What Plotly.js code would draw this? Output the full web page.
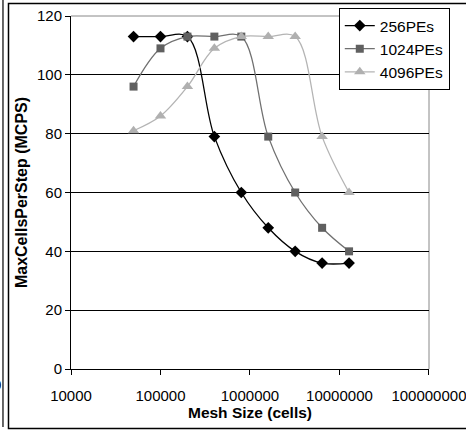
<!DOCTYPE html>
<html><head><meta charset="utf-8">
<script src="https://cdn.plot.ly/plotly-3.0.1.min.js"></script>
<style>html,body{margin:0;padding:0;background:#fff;}#chart{width:466px;height:430px;}</style>
</head><body><div id="chart"></div>
<script>
const meshSizes = [50000, 100000, 200000, 400000, 800000, 1600000, 3200000, 6400000, 12800000];
const pe256 = [113, 113, 113, 79, 60, 48, 40, 36, 36];
const pe1024 = [96, 109, 113, 113, 113, 79, 60, 48, 40];
const pe4096 = [81, 86, 96, 109, 113, 113, 113, 79, 60];
const seriesNames = ['256PEs', '1024PEs', '4096PEs'];
const xTickVals = [10000, 100000, 1000000, 10000000, 100000000];
const xTickText = ['10000', '100000', '1000000', '10000000', '100000000'];

const FONT = 'Liberation Sans, Arial, sans-serif';
const mk = (y, name, lineColor, markerColor, symbol, size, grp) => ({
  x: meshSizes, y: y, name: name, type: 'scatter', mode: 'lines+markers',
  legendgroup: grp,
  line: {color: lineColor, width: 1.3, shape: 'spline', smoothing: 1},
  marker: {color: markerColor, symbol: symbol, size: size, line: {width: 0}}
});
const data = [
  mk(pe256, seriesNames[0], '#000000', '#000000', 'diamond', 9, 'a'),
  mk(pe1024, seriesNames[1], '#707070', '#606060', 'square', 8, 'b'),
  mk(pe4096, seriesNames[2], '#b4b4b4', '#b0b0b0', 'triangle-up', 10, 'c')
];
const layout = {
  width: 466, height: 430,
  margin: {l: 71, r: 37, t: 16, b: 61, autoexpand: false},
  paper_bgcolor: '#fff', plot_bgcolor: '#fff',
  font: {family: FONT, size: 15, color: '#000'},
  showlegend: true,
  legend: {x: 0.748, y: 1.0227, xanchor: 'left', yanchor: 'top',
    bordercolor: '#000', borderwidth: 1, bgcolor: '#fff',
    font: {family: FONT, size: 15.5, color: '#000'},
    tracegroupgap: 0, traceorder: 'grouped'},
  xaxis: {type: 'log', range: [4, 8.0005], tickvals: xTickVals, ticktext: xTickText, tickangle: 0,
    ticks: 'outside', ticklen: 5, tickcolor: '#000', showline: true, linecolor: '#000', linewidth: 1,
    ticklabelstandoff: 8, ticklabeloverflow: 'allow',
    showgrid: false, zeroline: false, tickfont: {family: FONT, size: 15},
    title: {text: '<b>Mesh Size (cells)</b>', font: {family: FONT, size: 15.5}, standoff: 4}},
  yaxis: {range: [0, 120], dtick: 20, ticks: 'outside', ticklen: 5, tickcolor: '#000',
    showline: true, linecolor: '#000', linewidth: 1, showgrid: true, gridcolor: '#000', gridwidth: 1,
    zeroline: false, tickfont: {family: FONT, size: 15},
    title: {text: '<b>MaxCellsPerStep (MCPS)</b>', font: {family: FONT, size: 16}, standoff: 5}},
  shapes: [
    {type: 'line', xref: 'paper', yref: 'paper', x0: 0, x1: 1, y0: 1, y1: 1, line: {color: '#888', width: 1}, layer: 'above'},
    {type: 'line', xref: 'paper', yref: 'paper', x0: 1, x1: 1, y0: 0, y1: 1, line: {color: '#888', width: 1}, layer: 'below'},
    {type: 'rect', xref: 'paper', yref: 'paper', x0: -0.1746, x1: 1.12, y0: -0.1686, y1: 1.0354, line: {color: '#000', width: 1.5}},
    {type: 'line', xref: 'paper', yref: 'paper', x0: -0.19, x1: -0.19, y0: -0.164, y1: 1.05, line: {color: '#000', width: 1.2}}
  ],
  annotations: [
    {text: '0', xref: 'paper', yref: 'paper', x: -0.191, y: -0.043, xanchor: 'right', yanchor: 'middle', showarrow: false, font: {family: FONT, size: 15, color: '#000'}}
  ]
};
Plotly.newPlot('chart', data, layout, {displayModeBar: false, staticPlot: true});
</script></body></html>
